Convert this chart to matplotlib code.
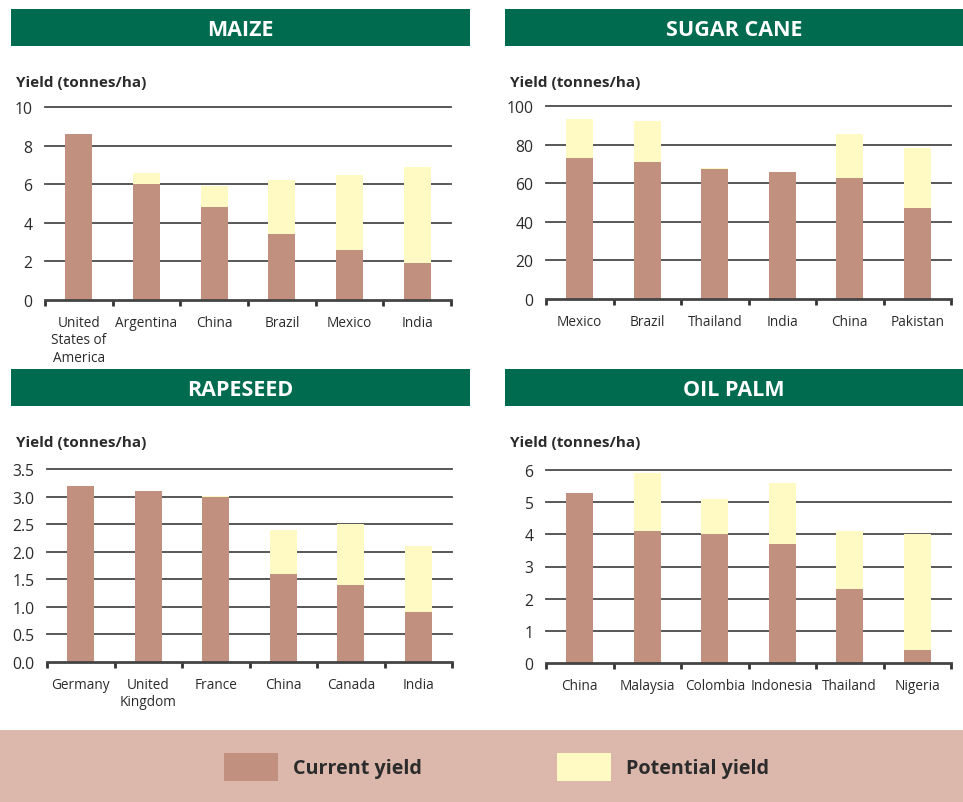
import matplotlib.pyplot as plt
from matplotlib.patches import Rectangle

plt.rcParams['font.family'] = ['Open Sans', 'DejaVu Sans']

# Yield data (tonnes/ha): current and potential per country
maize_countries = ['United\nStates of\nAmerica', 'Argentina', 'China', 'Brazil', 'Mexico', 'India']
maize_current = [8.6, 6.0, 4.8, 3.4, 2.6, 1.9]
maize_potential = [8.6, 6.6, 5.9, 6.2, 6.5, 6.9]

cane_countries = ['Mexico', 'Brazil', 'Thailand', 'India', 'China', 'Pakistan']
cane_current = [73.3, 71.2, 67.2, 66.0, 62.9, 47.3]
cane_potential = [93.1, 92.0, 68.1, 66.0, 85.3, 78.0]

rape_countries = ['Germany', 'United\nKingdom', 'France', 'China', 'Canada', 'India']
rape_current = [3.2, 3.1, 3.0, 1.6, 1.4, 0.9]
rape_potential = [3.2, 3.1, 3.01, 2.4, 2.5, 2.1]

palm_countries = ['China', 'Malaysia', 'Colombia', 'Indonesia', 'Thailand', 'Nigeria']
palm_current = [5.3, 4.1, 4.0, 3.7, 2.3, 0.4]
palm_potential = [5.3, 5.9, 5.1, 5.6, 4.1, 4.0]

maize_ticks = [0, 2, 4, 6, 8, 10]
cane_ticks = [0, 20, 40, 60, 80, 100]
rape_ticks = [0.0, 0.5, 1.0, 1.5, 2.0, 2.5, 3.0, 3.5]
palm_ticks = [0, 1, 2, 3, 4, 5, 6]

CURRENT = '#c1907f'
POTENTIAL = '#fff9c4'
GREEN = '#006b4f'
BAND = '#dcb8ac'
TEXT = '#2b2b2b'

W, H = 963, 803
fig = plt.figure(figsize=(W / 100, H / 100), dpi=100)


def px_rect(x0, y0, x1, y1, color):
    # rectangle given in pixel coordinates measured from the top-left
    fig.patches.append(Rectangle((x0 / W, 1 - y1 / H), (x1 - x0) / W, (y1 - y0) / H,
                                 transform=fig.transFigure, facecolor=color,
                                 edgecolor='none', zorder=0))


def panel(rect, header, title, countries, current, potential, ticks, fmt):
    hx0, hy0, hx1, hy1 = header
    px_rect(hx0, hy0, hx1, hy1, GREEN)
    fig.text((hx0 + hx1) / 2 / W, 1 - ((hy0 + hy1) / 2 + 2) / H, title, color='white',
             fontsize=15.5, fontweight='bold', ha='center', va='center')
    fig.text((hx0 + 5) / W, 1 - (hy1 + 36) / H, 'Yield (tonnes/ha)', color=TEXT,
             fontsize=11, fontweight='bold', ha='left', va='center')

    x0, ytop, x1, ybot = rect
    ax = fig.add_axes([x0 / W, 1 - ybot / H, (x1 - x0) / W, (ybot - ytop) / H])
    idx = list(range(len(countries)))
    gap = [p - c for p, c in zip(potential, current)]
    ax.bar(idx, current, width=0.4, color=CURRENT, zorder=3)
    ax.bar(idx, gap, bottom=current, width=0.4, color=POTENTIAL, zorder=3)

    for t in ticks[1:]:
        ax.axhline(t, color='#4a4a4a', lw=1.3, zorder=1, clip_on=False)

    ax.set_xlim(-0.5, len(countries) - 0.5)
    ax.set_ylim(0, ticks[-1])
    ax.set_yticks(ticks)
    ax.set_yticklabels([fmt.format(t) for t in ticks])
    ax.set_xticks(idx)
    ax.set_xticklabels(countries, linespacing=1.25)
    ax.set_xticks([i - 0.5 for i in range(len(countries) + 1)], minor=True)
    ax.tick_params(axis='x', which='major', length=0, pad=10.5, labelsize=9.8, labelcolor=TEXT)
    ax.tick_params(axis='x', which='minor', length=4, width=2, color='#333333', direction='out')
    ax.tick_params(axis='y', length=0, pad=9, labelsize=11.3, labelcolor=TEXT)
    for s in ['top', 'right', 'left']:
        ax.spines[s].set_visible(False)
    ax.spines['bottom'].set_color('#444444')
    ax.spines['bottom'].set_linewidth(2)
    ax.spines['bottom'].set_zorder(4)
    ax.patch.set_alpha(0)
    return ax


panel((45, 108, 451, 301), (11, 10, 470, 47), 'MAIZE',
      maize_countries, maize_current, maize_potential, maize_ticks, '{:g}')
panel((546, 107, 951, 300), (505, 10, 963, 47), 'SUGAR CANE',
      cane_countries, cane_current, cane_potential, cane_ticks, '{:g}')
panel((47, 470, 452, 663), (11, 370, 470, 407), 'RAPESEED',
      rape_countries, rape_current, rape_potential, rape_ticks, '{:.1f}')
panel((546, 471, 951, 664), (505, 370, 963, 407), 'OIL PALM',
      palm_countries, palm_current, palm_potential, palm_ticks, '{:g}')

# legend band along the bottom
px_rect(0, 731, W, H, BAND)
px_rect(224, 754, 278, 782, CURRENT)
px_rect(557, 754, 611, 782, POTENTIAL)
fig.text(293 / W, 1 - 769 / H, 'Current yield', color=TEXT, fontsize=14.2,
         fontweight='bold', family=['Liberation Sans Narrow', 'Open Sans'],
         ha='left', va='center')
fig.text(626 / W, 1 - 769 / H, 'Potential yield', color=TEXT, fontsize=14.2,
         fontweight='bold', family=['Liberation Sans Narrow', 'Open Sans'],
         ha='left', va='center')

fig.savefig('out.png', dpi=100)
